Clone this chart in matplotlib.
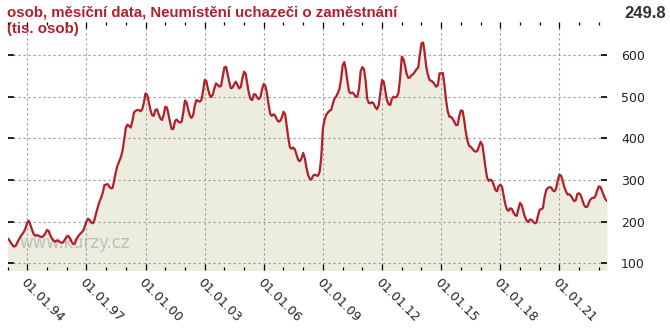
import matplotlib
matplotlib.use("Agg")

import numpy as np
import pandas as pd
import matplotlib.pyplot as plt
import matplotlib.dates as mdates
import matplotlib.ticker as mticker

# Registered job applicants without placement, thousands, monthly from Jan 1993
y1993 = [160, 156, 150, 144, 140, 142, 150, 158, 165, 170, 176, 185]
y1994 = [198, 202, 192, 180, 170, 166, 168, 166, 164, 163, 166, 172]
y1995 = [180, 178, 168, 160, 155, 152, 155, 154, 151, 149, 151, 158]
y1996 = [163, 166, 160, 152, 146, 148, 158, 165, 170, 174, 178, 188]
y1997 = [200, 207, 204, 198, 196, 205, 221, 235, 248, 258, 270, 288]
y1998 = [289, 290, 284, 280, 281, 300, 320, 335, 345, 355, 370, 396]
y1999 = [425, 433, 430, 426, 440, 462, 466, 468, 468, 465, 470, 485]
y2000 = [508, 504, 488, 468, 456, 454, 468, 470, 458, 448, 444, 455]
y2001 = [476, 474, 458, 438, 422, 423, 442, 445, 440, 438, 440, 462]
y2002 = [491, 486, 470, 455, 449, 455, 478, 492, 490, 488, 492, 512]
y2003 = [540, 538, 520, 505, 499, 505, 520, 532, 528, 524, 526, 548]
y2004 = [570, 572, 555, 535, 520, 522, 530, 536, 528, 520, 523, 545]
y2005 = [560, 555, 530, 508, 494, 492, 506, 505, 498, 494, 500, 518]
y2006 = [531, 525, 508, 480, 458, 454, 458, 454, 445, 440, 442, 450]
y2007 = [464, 458, 430, 400, 378, 375, 378, 373, 360, 348, 345, 352]
y2008 = [365, 352, 330, 312, 303, 301, 310, 313, 311, 310, 320, 355]
y2009 = [425, 445, 456, 462, 466, 468, 482, 495, 500, 508, 518, 540]
y2010 = [575, 583, 565, 535, 512, 508, 510, 506, 500, 500, 520, 561]
y2011 = [571, 566, 540, 495, 485, 484, 487, 483, 474, 470, 480, 510]
y2012 = [540, 536, 515, 492, 482, 480, 495, 500, 498, 500, 510, 545]
y2013 = [596, 590, 575, 555, 545, 546, 552, 554, 560, 566, 570, 600]
y2014 = [628, 630, 605, 570, 552, 540, 538, 535, 530, 524, 528, 556]
y2015 = [556, 557, 530, 492, 466, 452, 452, 447, 440, 432, 432, 453]
y2016 = [467, 466, 445, 415, 395, 382, 380, 375, 370, 368, 370, 381]
y2017 = [392, 385, 360, 330, 305, 298, 301, 298, 288, 276, 273, 285]
y2018 = [289, 284, 264, 243, 230, 226, 232, 231, 222, 216, 214, 230]
y2019 = [245, 240, 226, 212, 203, 199, 205, 205, 200, 196, 198, 215]
y2020 = [229, 230, 233, 260, 276, 281, 283, 282, 275, 273, 280, 300]
y2021 = [313, 310, 298, 283, 273, 265, 266, 262, 255, 249, 252, 267]
y2022 = [268, 263, 252, 240, 235, 236, 246, 254, 257, 257, 262, 275]
y2023 = [285, 283, 274, 263, 254, 249.8]

values = (y1993 + y1994 + y1995 + y1996 + y1997 + y1998 + y1999 + y2000
          + y2001 + y2002 + y2003 + y2004 + y2005 + y2006 + y2007 + y2008
          + y2009 + y2010 + y2011 + y2012 + y2013 + y2014 + y2015 + y2016
          + y2017 + y2018 + y2019 + y2020 + y2021 + y2022 + y2023)
dates = pd.date_range("1993-01-01", periods=len(values), freq="MS")

title_1 = "osob, měsíční data, Neumístění uchazeči o zaměstnání"
title_2 = "(tis. osob)"
last_label = f"{values[-1]:.1f}"
label_years = list(range(1994, 2022, 3))
y_ticks = [100, 200, 300, 400, 500, 600]

LINE = "#b21f2b"
FILL = "#ecedde"
GRID = "#9a9a9a"

fig = plt.figure(figsize=(6.7, 3.35), dpi=100)
ax = fig.add_axes([0.0113, 0.194, 0.8947, 0.740])

ax.fill_between(dates, values, 0, color=FILL, lw=0, zorder=1)
ax.plot(dates, values, color=LINE, lw=1.6, zorder=4)

ax.text(0.111, 0.107, "www.kurzy.cz", transform=ax.transAxes, fontsize=12,
        color="#b9b9b9", alpha=0.9, ha="center", va="center", zorder=3)

ax.set_xlim(dates[0], dates[-1])
ax.set_ylim(84, 679)

ax.xaxis.set_major_locator(mticker.FixedLocator(
    [mdates.date2num(pd.Timestamp(f"{y}-01-01")) for y in label_years]))
ax.xaxis.set_minor_locator(mdates.YearLocator(1))
ax.xaxis.set_major_formatter(mdates.DateFormatter("%d.%m.%y"))
ax.yaxis.set_major_locator(mticker.FixedLocator(y_ticks))

ax.grid(True, which="major", color=GRID, lw=0.8, ls=(0, (2, 2.5)), zorder=2)
for s in ax.spines.values():
    s.set_visible(False)

ax.tick_params(axis="x", which="major", direction="in", length=4, width=0.9,
               top=True, bottom=True, pad=4, labelsize=9, labelcolor="#222222")
ax.tick_params(axis="x", which="minor", direction="in", length=2.5, width=0.9,
               top=True, bottom=True)
ax.tick_params(axis="y", which="major", direction="in", length=4, width=1.2,
               left=True, right=True, labelleft=False, labelright=True,
               pad=10, labelsize=9, labelcolor="#222222")
plt.setp(ax.get_xticklabels(), rotation=-45, ha="left", va="top",
         rotation_mode="anchor")

fig.text(7 / 670, 1 - 16.7 / 335, title_1, family="Liberation Sans",
         fontweight="bold", fontsize=10.8, color=LINE, va="baseline")
fig.text(7 / 670, 1 - 33.5 / 335, title_2, family="Liberation Sans",
         fontweight="bold", fontsize=10.8, color=LINE, va="baseline")
fig.text(666 / 670, 1 - 18.3 / 335, last_label, family="Liberation Sans",
         fontweight="bold", fontsize=12, color="#333333", ha="right",
         va="baseline")

fig.savefig("out.png", dpi=100)
